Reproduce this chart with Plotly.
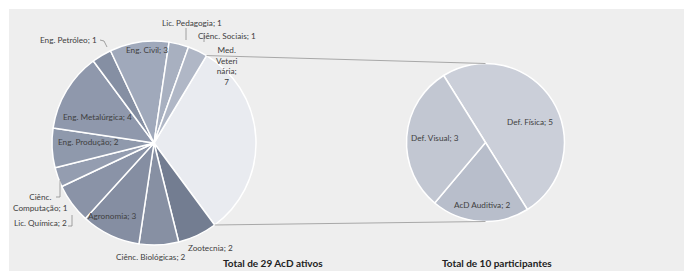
import math
import plotly.graph_objects as go

# ---------------- data ----------------
left_labels = ["Med. Veterinária", "Zootecnia", "Ciênc. Biológicas", "Agronomia",
               "Lic. Química", "Ciênc. Computação", "Eng. Produção", "Eng. Metalúrgica",
               "Eng. Petróleo", "Eng. Civil", "Lic. Pedagogia", "Ciênc. Sociais"]
left_values = [7, 2, 2, 3, 2, 1, 2, 4, 1, 3, 1, 1]

right_labels = ["Def. Física", "AcD Auditiva", "Def. Visual"]
right_values = [5, 2, 3]

left_title = "Total de 29 AcD ativos"
right_title = "Total de 10 participantes"

# ---------------- style ----------------
W, H = 684, 271
left_colors = ["#E9EBF0", "#737D91", "#8790A3", "#858EA2", "#8A93A7", "#949DB0",
               "#8F99AC", "#8F98AC", "#858FA3", "#A0A9BB", "#A8B0C0", "#B0B7C6"]
right_colors = ["#CBCFD9", "#B8BECB", "#C2C7D2"]
label_color = "#404040"
FONT = "Lato"

L_CX, L_CY, L_R = 154, 143, 102
R_CX, R_CY, R_R = 485.5, 142.5, 79
L_ROT, R_ROT = 31, 328

# the first slice of the left pie is the one expanded in the right pie (pie-of-pie)
left_drawn = [sum(right_values)] + left_values[1:]


def px(x):
    return x / W


def py(y):
    return 1 - y / H


def dom(cx, cy, r):
    return dict(x=[px(cx - r), px(cx + r)], y=[py(cy + r), py(cy - r)])


fig = go.Figure()
fig.add_trace(go.Pie(
    labels=left_labels, values=left_drawn, sort=False, direction="clockwise",
    rotation=L_ROT, textinfo="none", hoverinfo="label",
    marker=dict(colors=left_colors, line=dict(color="white", width=1.5)),
    domain=dom(L_CX, L_CY, L_R), showlegend=False))
fig.add_trace(go.Pie(
    labels=right_labels, values=right_values, sort=False, direction="clockwise",
    rotation=R_ROT, textinfo="none", hoverinfo="label",
    marker=dict(colors=right_colors, line=dict(color="white", width=1.5)),
    domain=dom(R_CX, R_CY, R_R), showlegend=False))

# ---------------- labels (pixel positions of text centres) ----------------
left_label_pos = {
    "Med. Veterinária": (226, 66),
    "Zootecnia": (210, 248),
    "Ciênc. Biológicas": (151, 257),
    "Agronomia": (112, 216),
    "Lic. Química": (40, 223),
    "Ciênc. Computação": (40, 202),
    "Eng. Produção": (88, 142),
    "Eng. Metalúrgica": (97, 117),
    "Eng. Petróleo": (68, 40),
    "Eng. Civil": (147, 50),
    "Lic. Pedagogia": (192, 23),
    "Ciênc. Sociais": (227, 36),
}
right_label_pos = {
    "Def. Física": (530, 122),
    "AcD Auditiva": (482, 205),
    "Def. Visual": (435, 138),
}


def ann(x, y, txt, size, color, align="center"):
    return dict(x=px(x), y=py(y), xref="paper", yref="paper", text=txt,
                xanchor="center", yanchor="middle", showarrow=False, align=align,
                font=dict(family=FONT, size=size, color=color))


annotations = []
for lab, val in zip(left_labels, left_values):
    x, y = left_label_pos[lab]
    if lab == "Med. Veterinária":
        txt = f"Med.<br>Veteri<br>nária;<br>{val}"
    elif lab == "Ciênc. Computação":
        txt = f"Ciênc.<br>Computação; {val}"
    else:
        txt = f"{lab}; {val}"
    annotations.append(ann(x, y, txt, 8.2, label_color))
for lab, val in zip(right_labels, right_values):
    x, y = right_label_pos[lab]
    annotations.append(ann(x, y, f"{lab}; {val}", 8.2, label_color))
annotations.append(ann(273, 263, f"<b>{left_title}</b>", 10, "#222222"))
annotations.append(ann(497, 263, f"<b>{right_title}</b>", 10, "#222222"))

# ---------------- shapes ----------------
shapes = [dict(type="rect", xref="paper", yref="paper", x0=px(9), x1=1, y0=0, y1=py(9),
               fillcolor="#EEEEEE", line=dict(width=0), layer="below")]

# connector lines from the expanded slice boundaries to top/bottom of the right pie
total_left = sum(left_drawn)
a_start = math.radians(L_ROT)
a_end = math.radians(L_ROT + 360 * left_drawn[0] / total_left)
for a, ry in ((a_start, R_CY - R_R), (a_end, R_CY + R_R)):
    x0 = L_CX + L_R * math.sin(a)
    y0 = L_CY - L_R * math.cos(a)
    shapes.append(dict(type="line", xref="paper", yref="paper",
                       x0=px(x0), y0=py(y0), x1=px(R_CX), y1=py(ry),
                       line=dict(color="#A8A8A8", width=1)))

# small leader lines for outside labels
leaders = [
    [(100, 40), (104, 41), (107, 47)],   # Eng. Petróleo
    [(186, 28), (186, 40)],              # Lic. Pedagogia
    [(204, 33), (204, 42)],              # Ciênc. Sociais
    [(56, 197), (60, 197), (60, 180)],   # Ciênc. Computação
    [(68, 226), (72, 226), (72, 215)],   # Lic. Química
]
for pts in leaders:
    for (xa, ya), (xb, yb) in zip(pts[:-1], pts[1:]):
        shapes.append(dict(type="line", xref="paper", yref="paper",
                           x0=px(xa), y0=py(ya), x1=px(xb), y1=py(yb),
                           line=dict(color="#8A8A8A", width=0.8)))

fig.update_layout(width=W, height=H, margin=dict(l=0, r=0, t=0, b=0),
                  paper_bgcolor="white", plot_bgcolor="white",
                  annotations=annotations, shapes=shapes)
fig.write_html("out.html", config={"displayModeBar": False},
               post_script="document.body.style.margin='0';document.body.style.overflow='hidden';")
